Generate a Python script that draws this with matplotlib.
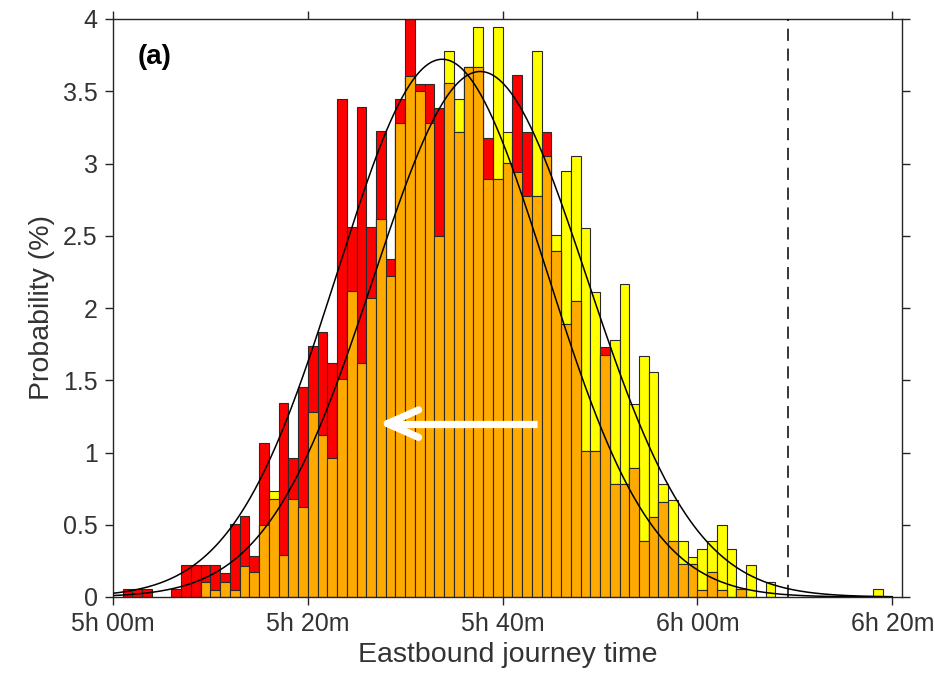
import numpy as np
import matplotlib
matplotlib.use('Agg')
import matplotlib.pyplot as plt

plt.rcParams['font.family'] = ['Liberation Sans', 'DejaVu Sans']

# ---- data (minutes after 5h00m, 1-minute bins) ----
bin_start = list(range(0, 81))
red = [0, 0.053, 0.055, 0.053, 0, 0, 0.053, 0.22, 0.22, 0.22,
       0.22, 0.164, 0.505, 0.56, 0.285, 1.065, 0.676, 1.345, 0.96, 1.451,
       1.737, 1.836, 1.622, 3.446, 2.563, 3.389, 2.563, 3.227, 2.337, 3.446,
       4.0, 3.55, 3.55, 3.386, 3.556, 3.22, 3.67, 3.67, 3.174, 2.894,
       3.004, 3.61, 3.22, 2.776, 3.22, 2.394, 1.887, 2.05, 1.008, 1.008,
       1.73, 0.785, 0.78, 0.89, 0.388, 0.556, 0.66, 0.388, 0.228, 0.228,
       0.048, 0.175, 0.05, 0, 0.055, 0, 0, 0, 0, 0,
       0, 0, 0, 0, 0, 0, 0, 0, 0, 0, 0]
yellow = [0, 0, 0, 0, 0, 0, 0, 0, 0, 0.106,
          0.048, 0.106, 0.048, 0.217, 0.17, 0.50, 0.736, 0.29, 0.676, 0.625,
          1.282, 1.121, 0.96, 1.509, 2.118, 1.622, 2.067, 2.614, 2.224, 3.278,
          3.605, 3.50, 3.278, 2.50, 3.78, 3.444, 3.67, 3.944, 2.894, 3.944,
          3.22, 2.94, 2.776, 3.78, 3.055, 2.504, 2.945, 3.055, 2.556, 2.11,
          1.672, 1.777, 2.166, 1.336, 1.668, 1.555, 0.78, 0.671, 0.388, 0.279,
          0.332, 0.388, 0.498, 0.332, 0.055, 0.221, 0, 0.106, 0, 0,
          0, 0, 0, 0, 0, 0, 0, 0, 0.053, 0, 0]

# fitted normal curves (mean, std in minutes)
red_fit = (33.8, 10.72)
yellow_fit = (37.7, 10.97)

deadline_min = 69.3
xtick_vals = [0, 20, 40, 60, 80]
xtick_labels = ['5h 00m', '5h 20m', '5h 40m', '6h 00m', '6h 20m']
ytick_vals = [0, 0.5, 1, 1.5, 2, 2.5, 3, 3.5, 4]
ytick_labels = ['0', '0.5', '1', '1.5', '2', '2.5', '3', '3.5', '4']

# ---- figure ----
fig = plt.figure(figsize=(9.35, 6.8), dpi=100)
ax = fig.add_axes([113/935, 1 - 597/680, (902 - 113)/935, (597 - 19)/680])

C_RED = '#FF0000'
C_YEL = '#FFFF00'
C_ORA = '#FFAA00'
EDGE = '#2a2a2a'

def draw(xs, hs, color):
    xx = [x for x, h in zip(xs, hs) if h > 0]
    hh = [h for h in hs if h > 0]
    ax.bar(xx, hh, width=1, align='edge', color=color, edgecolor=EDGE,
           linewidth=0.8, zorder=2)

draw(bin_start, yellow, C_YEL)
draw(bin_start, red, C_RED)
overlap = [min(r, y) for r, y in zip(red, yellow)]
draw(bin_start, overlap, C_ORA)

# fitted curves
xc = np.linspace(0, 80, 600)
for mu, sd in (red_fit, yellow_fit):
    yc = 100.0 / (sd * np.sqrt(2 * np.pi)) * np.exp(-(xc - mu) ** 2 / (2 * sd ** 2))
    ax.plot(xc, yc, color='black', lw=1.1, zorder=3)

# deadline
ax.axvline(deadline_min, color='black', lw=1.1, linestyle=(0, (8, 5)), zorder=3)

# white arrow
arrow_tip = (28.17, 1.2)
arrow_tail = (43.56, 1.2)
head_dx, head_dy = 3.2, 0.095
ax.plot([arrow_tip[0] + 0.3, arrow_tail[0]], [arrow_tip[1], arrow_tail[1]],
        color='white', lw=5.2, solid_capstyle='butt', zorder=4)
for s in (1, -1):
    ax.plot([arrow_tip[0], arrow_tip[0] + head_dx],
            [arrow_tip[1], arrow_tip[1] + s * head_dy],
            color='white', lw=5.2, solid_capstyle='round', zorder=4)

ax.text(4.3, 3.74, '(a)', fontsize=20, fontweight='bold', ha='center',
        va='center', color='black')

ax.set_xlim(0, 81)
ax.set_ylim(0, 4)
ax.set_xticks(xtick_vals)
ax.set_xticklabels(xtick_labels)
ax.set_yticks(ytick_vals)
ax.set_yticklabels(ytick_labels)
ax.tick_params(direction='out', length=6, width=1.0, colors='#262626',
               labelsize=18, labelcolor='#333333', pad=5,
               top=True, right=True)
for sp in ax.spines.values():
    sp.set_color('#262626')
    sp.set_linewidth(1.0)

ax.set_xlabel('Eastbound journey time', fontsize=20.5, color='#333333', labelpad=4)
ax.set_ylabel('Probability (%)', fontsize=20.5, color='#333333', labelpad=6)

fig.savefig('out.png', dpi=100)
